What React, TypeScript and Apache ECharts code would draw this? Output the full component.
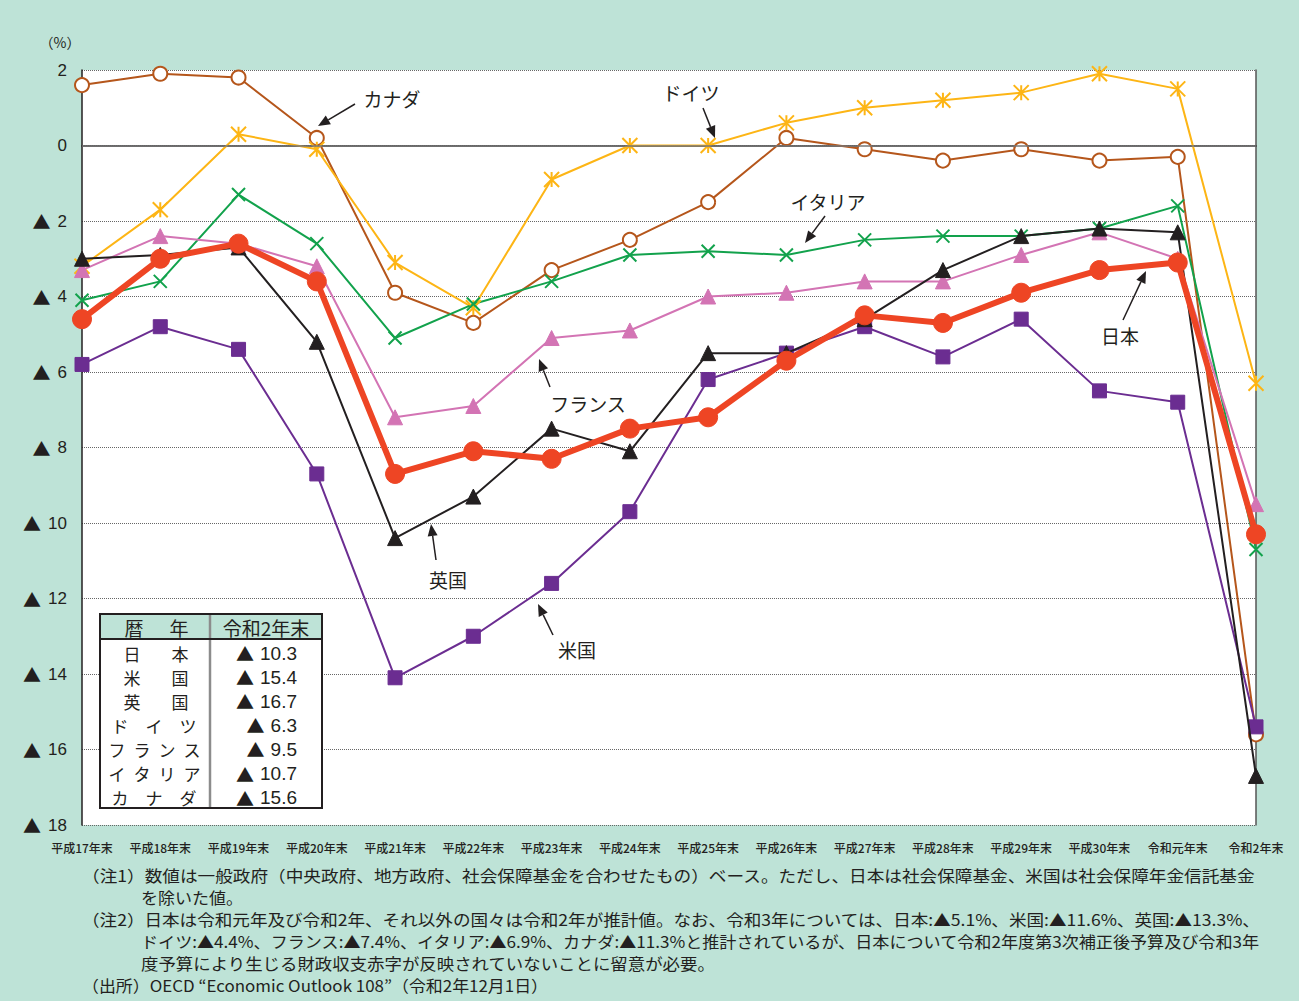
import React, { useEffect, useRef } from "react";
import * as echarts from "echarts";

const categories = [
  "平成17年末", "平成18年末", "平成19年末", "平成20年末", "平成21年末", "平成22年末",
  "平成23年末", "平成24年末", "平成25年末", "平成26年末", "平成27年末", "平成28年末",
  "平成29年末", "平成30年末", "令和元年末", "令和2年末",
];

const japan = [-4.6, -3.0, -2.6, -3.6, -8.7, -8.1, -8.3, -7.5, -7.2, -5.7, -4.5, -4.7, -3.9, -3.3, -3.1, -10.3];
const usa = [-5.8, -4.8, -5.4, -8.7, -14.1, -13.0, -11.6, -9.7, -6.2, -5.5, -4.8, -5.6, -4.6, -6.5, -6.8, -15.4];
const uk = [-3.0, -2.9, -2.7, -5.2, -10.4, -9.3, -7.5, -8.1, -5.5, -5.5, -4.6, -3.3, -2.4, -2.2, -2.3, -16.7];
const germany = [-3.2, -1.7, 0.3, -0.1, -3.1, -4.3, -0.9, 0.0, 0.0, 0.6, 1.0, 1.2, 1.4, 1.9, 1.5, -6.3];
const france = [-3.3, -2.4, -2.6, -3.2, -7.2, -6.9, -5.1, -4.9, -4.0, -3.9, -3.6, -3.6, -2.9, -2.3, -3.0, -9.5];
const italy = [-4.1, -3.6, -1.3, -2.6, -5.1, -4.2, -3.6, -2.9, -2.8, -2.9, -2.5, -2.4, -2.4, -2.2, -1.6, -10.7];
const canada = [1.6, 1.9, 1.8, 0.2, -3.9, -4.7, -3.3, -2.5, -1.5, 0.2, -0.1, -0.4, -0.1, -0.4, -0.3, -15.6];

const yMin = -18;
const yMax = 2;
const yInterval = 2;

const tableHeader = ["暦年", "令和2年末"];
const tableNames = ["日本", "米国", "英国", "ドイツ", "フランス", "イタリア", "カナダ"];
const tableSeries = [japan, usa, uk, germany, france, italy, canada];

const noteLines = [
  "（注1）数値は一般政府（中央政府、地方政府、社会保障基金を合わせたもの）ベース。ただし、日本は社会保障基金、米国は社会保障年金信託基金",
  "を除いた値。",
  "（注2）日本は令和元年及び令和2年、それ以外の国々は令和2年が推計値。なお、令和3年については、日本:▲5.1%、米国:▲11.6%、英国:▲13.3%、",
  "ドイツ:▲4.4%、フランス:▲7.4%、イタリア:▲6.9%、カナダ:▲11.3%と推計されているが、日本について令和2年度第3次補正後予算及び令和3年",
  "度予算により生じる財政収支赤字が反映されていないことに留意が必要。",
  "（出所）OECD “Economic Outlook 108”（令和2年12月1日）",
];

const TEAL = "#BEE3D7";
const INK = "#231F20";
const JP_FONT = '"Noto Sans CJK JP", sans-serif';
const LAT_FONT = '"Liberation Sans", Arial, sans-serif';

function arrow(x1: number, y1: number, x2: number, y2: number): any[] {
  const dx = x2 - x1;
  const dy = y2 - y1;
  const len = Math.sqrt(dx * dx + dy * dy);
  const ux = dx / len;
  const uy = dy / len;
  const hl = 12;
  const hw = 5;
  const bx = x2 - ux * hl;
  const by = y2 - uy * hl;
  return [
    {
      type: "line",
      shape: { x1, y1, x2: bx, y2: by },
      style: { stroke: INK, lineWidth: 1.5 },
      z: 20,
    },
    {
      type: "polygon",
      shape: {
        points: [
          [x2, y2],
          [bx - uy * hw, by + ux * hw],
          [bx + uy * hw, by - ux * hw],
        ],
      },
      style: { fill: INK },
      z: 20,
    },
  ];
}

function label(text: string, x: number, y: number, size = 19): any {
  return {
    type: "text",
    x,
    y,
    z: 20,
    style: {
      text,
      fill: INK,
      fontSize: size,
      fontFamily: JP_FONT,
      align: "center",
      verticalAlign: "middle",
    },
  };
}

function measure(text: string, font: string): number {
  const c = document.createElement("canvas");
  const ctx = c.getContext("2d");
  if (!ctx) return text.length * 16;
  ctx.font = font;
  return ctx.measureText(text).width;
}

export default function App() {
  const ref = useRef<HTMLDivElement>(null);

  useEffect(() => {
    document.body.style.margin = "0";
    document.body.style.background = TEAL;
    if (!ref.current) return;
    const chart = echarts.init(ref.current, undefined, { renderer: "svg" });

    const asterisk = "path://M5,0L5,10M0,0L10,10M10,0L0,10";
    const cross = "path://M0,0L10,10M10,0L0,10";

    const lineSeries = (
      name: string,
      data: number[],
      color: string,
      symbol: string,
      symbolSize: number,
      width: number,
      z: number,
      extraItem: any = {}
    ) => ({
      name,
      type: "line",
      data,
      symbol,
      symbolSize,
      showAllSymbol: true,
      z,
      lineStyle: { color, width, type: "solid" },
      itemStyle: { color, borderColor: color, ...extraItem },
      emphasis: { disabled: true },
    });

    // Table graphics
    const tX = 100, tY = 614, tW = 222, tH = 194, divX = 210, headH = 25;
    const rowY0 = 653, rowStep = 24.1;
    const charCenters: Record<number, number[]> = {
      2: [132, 180],
      3: [120, 154, 188],
      4: [117, 142, 167, 192],
    };
    const table: any[] = [
      { type: "rect", shape: { x: tX, y: tY, width: tW, height: tH }, style: { fill: "#fff" }, z: 15 },
      { type: "rect", shape: { x: tX, y: tY, width: tW, height: headH }, style: { fill: TEAL }, z: 15 },
      { type: "line", shape: { x1: divX, y1: tY, x2: divX, y2: tY + tH }, style: { stroke: "#8C8C8C", lineWidth: 2.5 }, z: 16 },
      { type: "line", shape: { x1: tX, y1: tY + headH, x2: tX + tW, y2: tY + headH }, style: { stroke: INK, lineWidth: 2 }, z: 17 },
      { type: "rect", shape: { x: tX, y: tY, width: tW, height: tH }, style: { fill: "none", stroke: INK, lineWidth: 2 }, z: 17 },
    ];
    const hdr = tableHeader[0];
    table.push({ ...label(hdr[0], 134, 627, 19), z: 18 });
    table.push({ ...label(hdr[1], 179, 627, 19), z: 18 });
    table.push({ ...label(tableHeader[1], 266, 627, 19), z: 18 });
    tableNames.forEach((nm, i) => {
      const chars = Array.from(nm);
      const centers = charCenters[chars.length];
      const y = rowY0 + i * rowStep;
      chars.forEach((c, j) => table.push({ ...label(c, centers[j], y, 17), z: 18 }));
      const s = tableSeries[i];
      const v = s[s.length - 1];
      table.push({
        type: "text",
        x: 297,
        y,
        z: 18,
        style: {
          text: `{t|▲}{n|${Math.abs(v).toFixed(1)}}`,
          fill: INK,
          align: "right",
          verticalAlign: "middle",
          rich: {
            t: { fontSize: 18, fontFamily: JP_FONT, fill: INK, padding: [0, 6, 0, 0] },
            n: { fontSize: 19, fontFamily: LAT_FONT, fill: INK },
          },
        },
      });
    });

    const noteStarts = [82, 141, 82, 141, 141, 82];
    const noteEnds = [1257, 243, 1262, 1262, 716, 548];
    const noteFont = `16px "Noto Sans CJK JP"`;
    const notes: any[] = noteLines.map((t, i) => {
      const w = measure(t, noteFont);
      const target = noteEnds[i] - noteStarts[i];
      const sx = w > 0 ? target / w : 1;
      return {
        type: "text",
        x: noteStarts[i],
        y: 875 + i * 22,
        scaleX: sx,
        z: 20,
        style: {
          text: t,
          fill: INK,
          fontSize: 16,
          fontFamily: JP_FONT,
          align: "left",
          verticalAlign: "middle",
        },
      };
    });

    const annotations: any[] = [
      label("カナダ", 392, 98),
      ...arrow(355, 104, 318, 126),
      label("ドイツ", 691, 92),
      ...arrow(703, 108, 715, 138),
      label("イタリア", 828, 201),
      ...arrow(825, 216, 805, 243),
      label("日本", 1120, 335),
      ...arrow(1123, 320, 1146, 271),
      label("フランス", 588, 403),
      ...arrow(550, 387, 539, 359),
      label("英国", 448, 579),
      ...arrow(436, 560, 431, 524),
      label("米国", 577, 649),
      ...arrow(553, 635, 538, 604),
      {
        type: "text",
        x: 60,
        y: 42,
        z: 20,
        style: {
          text: "（%）",
          fill: INK,
          fontSize: 14,
          fontFamily: JP_FONT,
          align: "center",
          verticalAlign: "middle",
        },
      },
    ];

    chart.setOption({
      animation: false,
      backgroundColor: TEAL,
      grid: {
        left: 82,
        right: 43,
        top: 70,
        bottom: 176,
        show: true,
        backgroundColor: "#fff",
        borderWidth: 0,
      },
      xAxis: {
        type: "category",
        data: categories,
        boundaryGap: false,
        axisLine: { show: true, lineStyle: { color: INK, width: 1.5 } },
        axisTick: { show: false },
        axisLabel: {
          color: INK,
          fontSize: 12,
          fontWeight: 500,
          fontFamily: JP_FONT,
          margin: 16,
          interval: 0,
        },
        splitLine: { show: false },
      },
      yAxis: [
        {
          type: "value",
          min: yMin,
          max: yMax,
          interval: yInterval,
          axisLine: { show: true, lineStyle: { color: INK, width: 1.5 } },
          axisTick: { show: false },
          axisLabel: {
            color: INK,
            margin: 15,
            formatter: (v: number) => (v < 0 ? `{t|▲}{n|${Math.abs(v)}}` : `{n|${v}}`),
            rich: {
              t: { fontSize: 18, fontFamily: JP_FONT, color: INK, padding: [0, 7, 0, 0] },
              n: { fontSize: 17, fontFamily: LAT_FONT, color: INK },
            },
          },
          splitLine: { show: true, lineStyle: { color: "#666", type: "dotted", width: 1 } },
        },
        {
          type: "value",
          position: "right",
          min: yMin,
          max: yMax,
          interval: yInterval,
          axisLine: { show: true, lineStyle: { color: "#555", width: 1.5 } },
          axisTick: { show: false },
          axisLabel: { show: false },
          splitLine: { show: false },
        },
      ],
      series: [
        {
          name: "zero",
          type: "line",
          data: [],
          z: 1,
          markLine: {
            silent: true,
            symbol: "none",
            label: { show: false },
            lineStyle: { color: "#777", type: "solid", width: 1.5 },
            data: [{ yAxis: 0 }],
          },
        },
        lineSeries("カナダ", canada, "#B5561B", "emptyCircle", 14, 2, 3, { borderWidth: 1.8 }),
        lineSeries("ドイツ", germany, "#FDB515", asterisk, 15, 2, 3, { borderWidth: 2 }),
        lineSeries("イタリア", italy, "#12A24C", cross, 13, 2, 3, { borderWidth: 2 }),
        lineSeries("フランス", france, "#D374B4", "triangle", 15, 2, 4),
        lineSeries("米国", usa, "#6B2D91", "rect", 14, 2, 4),
        lineSeries("英国", uk, INK, "triangle", 15, 2, 5),
        lineSeries("日本", japan, "#EE4524", "circle", 19, 6, 6),
      ],
      graphic: [...table, ...annotations, ...notes],
    });

    return () => {
      chart.dispose();
    };
  }, []);

  return <div ref={ref} style={{ width: 1299, height: 1001 }} />;
}
